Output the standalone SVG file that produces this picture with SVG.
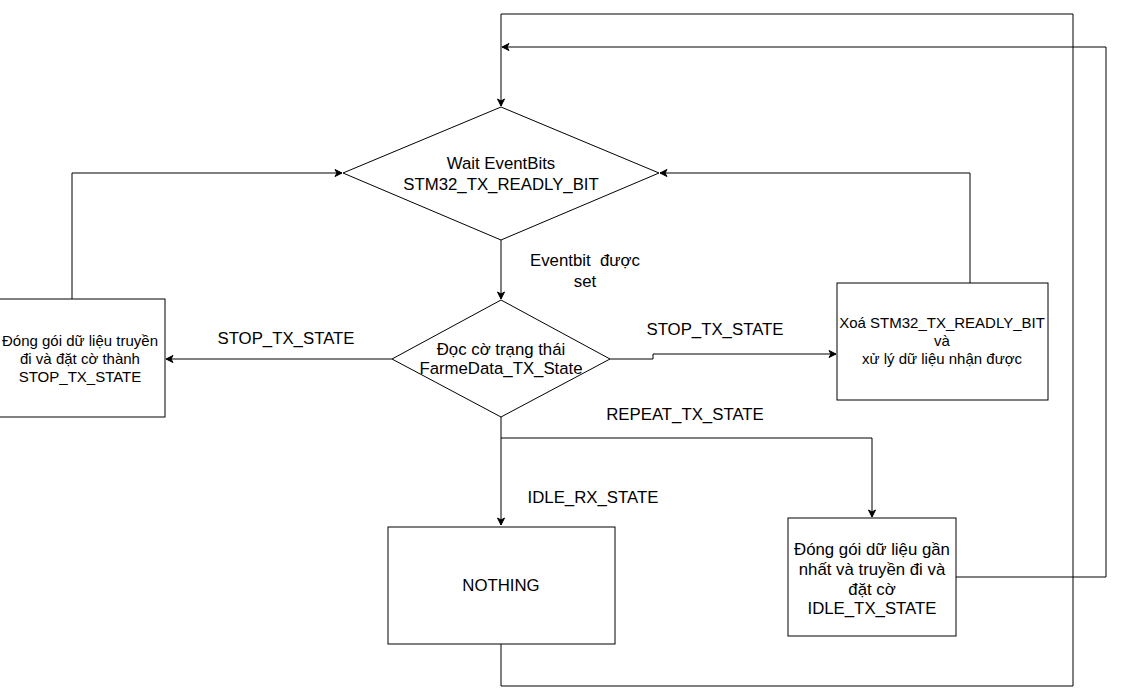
<svg xmlns="http://www.w3.org/2000/svg" width="1132" height="696" viewBox="0 0 1132 696">
<style>
.n{fill:#fff;stroke:#000;stroke-width:1}
.c{fill:none;stroke:#000;stroke-width:1}
text{font-family:"Liberation Sans",Arial,sans-serif;fill:#000;text-anchor:middle;white-space:pre}
.t15{font-size:15px}
.t17{font-size:16.8px}
</style>
<defs>
<marker id="ah" markerWidth="10" markerHeight="10" refX="8" refY="5" orient="auto" markerUnits="userSpaceOnUse">
<path d="M1,1.5 L8,5 L1,8.5 L3,5 Z" fill="#000" stroke="#000" stroke-width="1"/>
</marker>
</defs>
<rect width="1132" height="696" fill="#fff"/>
<g id="connectors">
<path class="c" d="M501,240 L501,299" marker-end="url(#ah)"/>
<path class="c" d="M392,359 L166,359" marker-end="url(#ah)"/>
<path class="c" d="M610,359 L653,359 L653,354 L836,354" marker-end="url(#ah)"/>
<path class="c" d="M501,417 L501,525" marker-end="url(#ah)"/>
<path class="c" d="M501,438 L872,438 L872,517" marker-end="url(#ah)"/>
<path class="c" d="M72,299 L72,173 L342,173" marker-end="url(#ah)"/>
<path class="c" d="M970,283 L970,173 L660,173" marker-end="url(#ah)"/>
<path class="c" d="M956,577 L1106,577 L1106,47 L502,47" marker-end="url(#ah)"/>
<path class="c" d="M501,644 L501,686 L1073,686 L1073,14 L501,14 L501,106" marker-end="url(#ah)"/>
</g>
<g id="lbl-eventbit"><text class="t17" x="585" y="266" xml:space="preserve">Eventbit  được</text><text class="t17" x="585" y="287">set</text></g>
<g id="lbl-stop-left"><text class="t17" x="286" y="344">STOP_TX_STATE</text></g>
<g id="lbl-stop-right"><text class="t17" x="715" y="335">STOP_TX_STATE</text></g>
<g id="lbl-repeat"><text class="t17" x="685" y="420">REPEAT_TX_STATE</text></g>
<g id="lbl-idle"><text class="t17" x="593" y="503">IDLE_RX_STATE</text></g>
<g id="wait">
<polygon class="n" points="501,107 659,173 501,240 343,173"/>
<text class="t17" x="501" y="169">Wait EventBits</text>
<text class="t17" x="501" y="190">STM32_TX_READLY_BIT</text>
</g>
<g id="read">
<polygon class="n" points="501,300 610,359 501,417 392,359"/>
<text class="t17" x="501" y="355">Đọc cờ trạng thái</text>
<text class="t17" x="501" y="374">FarmeData_TX_State</text>
</g>
<g id="pack-stop">
<rect class="n" x="-1" y="299" width="166" height="118"/>
<text class="t15" x="80" y="346">Đóng gói dữ liệu truyền</text>
<text class="t15" x="80" y="364">đi và đặt cờ thành</text>
<text class="t15" x="80" y="382">STOP_TX_STATE</text>
</g>
<g id="clear">
<rect class="n" x="837" y="283" width="211" height="117"/>
<text class="t15" x="942" y="328">Xoá STM32_TX_READLY_BIT</text>
<text class="t15" x="942" y="346">và</text>
<text class="t15" x="942" y="364">xử lý dữ liệu nhận được</text>
</g>
<g id="nothing">
<rect class="n" x="388" y="527" width="227" height="117"/>
<text class="t17" x="501" y="591">NOTHING</text>
</g>
<g id="pack-idle">
<rect class="n" x="788" y="518" width="168" height="118"/>
<text class="t17" x="872" y="555">Đóng gói dữ liệu gần</text>
<text class="t17" x="872" y="575">nhất và truyền đi và</text>
<text class="t17" x="872" y="595">đặt cờ</text>
<text class="t17" x="872" y="614">IDLE_TX_STATE</text>
</g>
</svg>
